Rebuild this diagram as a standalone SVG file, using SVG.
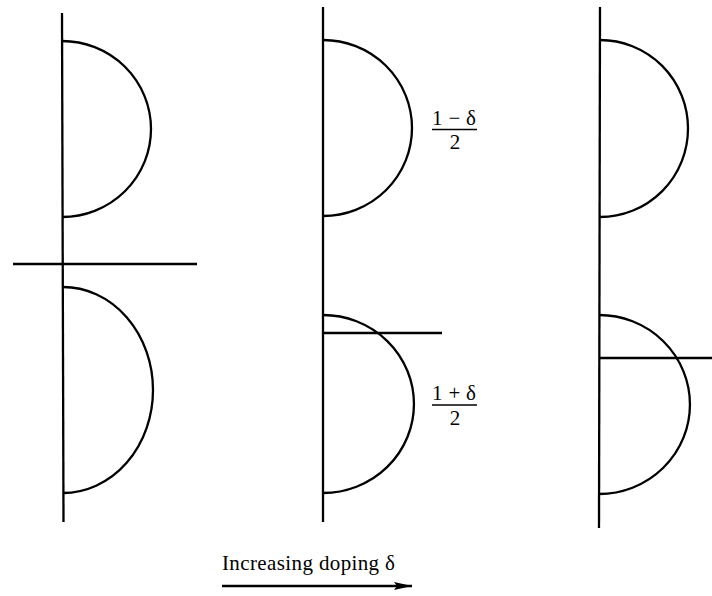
<svg xmlns="http://www.w3.org/2000/svg" width="712" height="596" viewBox="0 0 712 596">
<style>
.ln{stroke:#000;stroke-width:2.3;fill:none}
.t{font-family:"Liberation Serif","Times New Roman",serif;font-size:21px;fill:#000}
</style>
<defs>
<marker id="ah" viewBox="0 0 18 8" refX="18" refY="4" markerWidth="18" markerHeight="8" markerUnits="userSpaceOnUse" orient="auto">
<path d="M0,0 L18,4 L0,8 L3,4 Z" fill="#000"/>
</marker>
</defs>
<rect width="712" height="596" fill="#fff"/>
<g id="panel1">
<path class="ln" d="M62,13 L63.5,522"/>
<path class="ln" d="M62,41 A89,88 0 0 1 62,217"/>
<path class="ln" d="M63,287 A90,103 0 0 1 63,493"/>
<path class="ln" d="M13,264 L197,264"/>
</g>
<g id="panel2">
<path class="ln" d="M323,7 L323,522"/>
<path class="ln" d="M323,40 A89,88 0 0 1 323,216"/>
<path class="ln" d="M323,315 A91,89 0 0 1 323,493"/>
<path class="ln" d="M323,333 L442,333"/>
<g id="label-top">
<text class="t" x="454" y="125" text-anchor="middle" textLength="44" lengthAdjust="spacing">1 − δ</text>
<path d="M432,129.5 L477,129.5" stroke="#000" stroke-width="1.5"/>
<text class="t" x="455" y="149" text-anchor="middle">2</text>
</g>
<g id="label-bottom">
<text class="t" x="454" y="400" text-anchor="middle" textLength="44" lengthAdjust="spacing">1 + δ</text>
<path d="M432,405 L477,405" stroke="#000" stroke-width="1.5"/>
<text class="t" x="455" y="425" text-anchor="middle">2</text>
</g>
</g>
<g id="panel3">
<path class="ln" d="M600,7 L599,528"/>
<path class="ln" d="M600,40 A88,88.5 0 0 1 600,217"/>
<path class="ln" d="M599,315 A91,89.5 0 0 1 599,494"/>
<path class="ln" d="M599,358 L712,358"/>
</g>
<g id="connectors">
<text class="t" x="222" y="570" textLength="173" lengthAdjust="spacing">Increasing doping δ</text>
<path class="ln" d="M222,586 L412,586" marker-end="url(#ah)"/>
</g>
</svg>
